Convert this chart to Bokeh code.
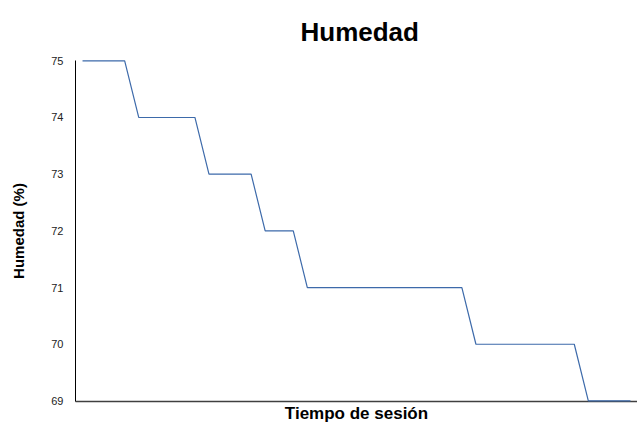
from bokeh.plotting import figure
from bokeh.models import Range1d, FixedTicker
from bokeh.embed import file_html
from bokeh.resources import INLINE

# Data (one reading per session time step)
sample_index = list(range(40))
humidity = [75, 75, 75, 75,
            74, 74, 74, 74, 74,
            73, 73, 73, 73,
            72, 72, 72,
            71, 71, 71, 71, 71, 71, 71, 71, 71, 71, 71, 71,
            70, 70, 70, 70, 70, 70, 70, 70,
            69, 69, 69, 69]
y_ticks = [69, 70, 71, 72, 73, 74, 75]

FONT = "Liberation Sans"

p = figure(width=637, height=425, output_backend="svg", toolbar_location=None,
           x_range=Range1d(-0.5, len(sample_index) - 0.5),
           y_range=Range1d(68.99, 75.005),
           min_border_left=75, min_border_right=0,
           min_border_top=58, min_border_bottom=20)

p.line(sample_index, humidity, line_color="#3d6aaa", line_width=1.2, level="overlay")

p.title.text = "Humedad"
p.title.text_font = FONT
p.title.text_font_size = "26px"
p.title.text_font_style = "bold"
p.title.text_color = "#000000"
p.title.text_line_height = 1.0
p.title.align = "left"
p.title.offset = 225
p.title.standoff = 28

p.outline_line_color = None
p.xgrid.visible = False
p.ygrid.visible = False
p.background_fill_color = "white"
p.border_fill_color = "white"

# y axis
ya = p.yaxis[0]
ya.ticker = FixedTicker(ticks=y_ticks)
ya.axis_label = "Humedad (%)"
ya.axis_label_text_font = FONT
ya.axis_label_text_font_size = "15px"
ya.axis_label_text_font_style = "bold"
ya.axis_label_text_color = "#000000"
ya.axis_label_standoff = 21
ya.major_label_text_font = FONT
ya.major_label_text_font_size = "11px"
ya.major_label_text_color = "#222222"
ya.major_label_standoff = 6
ya.major_tick_line_color = None
ya.minor_tick_line_color = None
ya.axis_line_color = "#000000"
ya.axis_line_width = 1

# x axis
xa = p.xaxis[0]
xa.ticker = FixedTicker(ticks=[])
xa.axis_label = "Tiempo de sesión"
xa.axis_label_text_font = FONT
xa.axis_label_text_font_size = "17px"
xa.axis_label_text_font_style = "bold"
xa.axis_label_text_color = "#000000"
xa.axis_label_text_line_height = 1.0
xa.axis_label_standoff = 2
xa.major_tick_line_color = None
xa.minor_tick_line_color = None
xa.axis_line_color = "#404040"
xa.axis_line_width = 1.5

open("out.html", "w").write(file_html(p, INLINE))
